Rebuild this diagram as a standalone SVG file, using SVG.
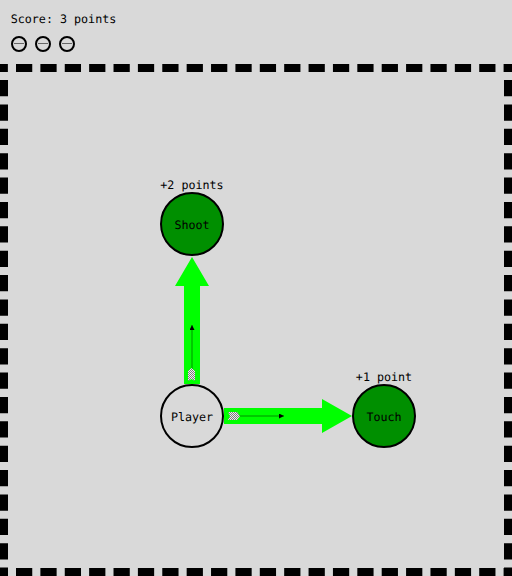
<svg xmlns="http://www.w3.org/2000/svg" width="512" height="576" viewBox="0 0 512 576">
<defs>
<pattern id="chk" width="2" height="2" patternUnits="userSpaceOnUse"><rect width="2" height="2" fill="#eeeeee"/><rect width="1" height="1" fill="#7d7d7d"/><rect x="1" y="1" width="1" height="1" fill="#7d7d7d"/></pattern>
<marker id="tip" markerUnits="userSpaceOnUse" markerWidth="6" markerHeight="6" refX="5" refY="2.500" orient="auto"><path d="M0 0L5 2.500L0 5Z" fill="#000"/></marker>
</defs>
<style>
text{font-family:"DejaVu Sans Mono",monospace;font-size:11.7px;fill:#000;text-anchor:middle;text-rendering:geometricPrecision}
.b{stroke:#000;stroke-width:8;stroke-dasharray:16.25 8.13;fill:none}
.n{stroke:#000;stroke-width:2}
.g{fill:#008f00}
.p{fill:#d9d9d9}
.big{fill:#0f0}
.thin{stroke:#000;stroke-opacity:.55;stroke-width:.8;fill:none;marker-end:url(#tip)}
.ic{fill:#d9d9d9;stroke:#000;stroke-width:2}
.il{stroke:#666;stroke-width:1;fill:none}
</style>
<rect width="512" height="576" fill="#d9d9d9"/>
<text x="63.500" y="23">Score: 3 points</text>
<g id="lives">
<g id="life1"><circle class="ic" cx="19" cy="44" r="7"/><path class="il" d="M14 43.500H24"/></g>
<g id="life2"><circle class="ic" cx="43" cy="44" r="7"/><path class="il" d="M38 43.500H48"/></g>
<g id="life3"><circle class="ic" cx="67" cy="44" r="7"/><path class="il" d="M62 43.500H72"/></g>
</g>
<g id="border">
<path class="b" d="M-8.380 68H512"/>
<path class="b" d="M-8.380 572H512"/>
<path class="b" d="M4 80V576"/>
<path class="b" d="M508 80V576"/>
</g>
<g id="connectors">
<path class="big" d="M184 384V286H175L192 257L209 286H200V384Z"/>
<path class="big" d="M224 408H322V399L352 416L322 433V424H224Z"/>
<path class="thin" d="M192 370V325"/>
<path class="thin" d="M238 416H284"/>
<path d="M188 381V371L191.500 368L195 371V381L191.500 379Z" fill="url(#chk)"/>
<path d="M228 412H237L240 416L237 420H228L230 416Z" fill="url(#chk)"/>
</g>
<g id="player"><circle class="n p" cx="192" cy="416" r="31"/><text x="192" y="421">Player</text></g>
<g id="shoot"><circle class="n g" cx="192" cy="224" r="31"/><text x="192" y="229">Shoot</text><text x="192" y="189">+2 points</text></g>
<g id="touch"><circle class="n g" cx="384" cy="416" r="31"/><text x="384" y="421">Touch</text><text x="384" y="381">+1 point</text></g>
</svg>
